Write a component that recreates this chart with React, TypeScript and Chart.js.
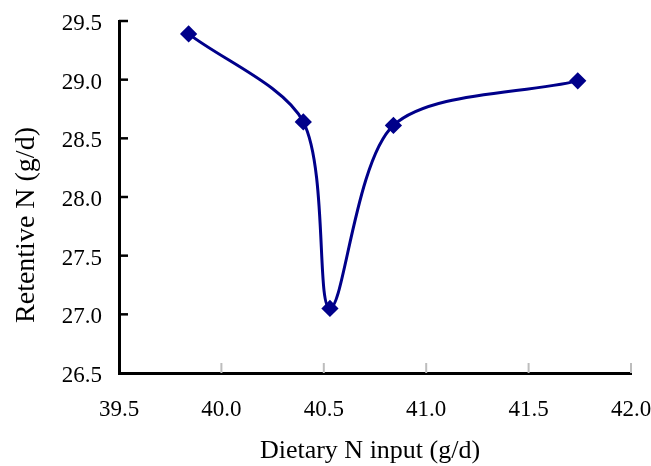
import React, { useEffect, useRef } from "react";
import { Chart, registerables } from "chart.js";

Chart.register(...registerables);

const dietaryN: number[] = [39.84, 40.4, 40.53, 40.84, 41.74];
const retentiveN: number[] = [29.39, 28.64, 27.05, 28.61, 28.99];
const xTicks: number[] = [39.5, 40.0, 40.5, 41.0, 41.5, 42.0];
const yTicks: number[] = [26.5, 27.0, 27.5, 28.0, 28.5, 29.0, 29.5];
const xTitle = "Dietary N input (g/d)";
const yTitle = "Retentive N (g/d)";

const LINE = "#00008a";
const FONT = "'Liberation Serif', 'Times New Roman', serif";

const decor = {
  id: "decor",
  afterDraw(chart: any) {
    const { ctx, chartArea, scales } = chart;
    const xs = scales.x;
    const ys = scales.y;
    ctx.save();
    ctx.strokeStyle = "#000";
    ctx.lineWidth = 2.5;
    yTicks.forEach((v) => {
      if (v === yTicks[0]) return;
      const py = ys.getPixelForValue(v);
      ctx.beginPath();
      ctx.moveTo(chartArea.left, py);
      ctx.lineTo(chartArea.left + 9, py);
      ctx.stroke();
    });
    ctx.strokeStyle = "#bdbdbd";
    ctx.lineWidth = 2;
    xTicks.forEach((v) => {
      if (v === xTicks[0]) return;
      const px = xs.getPixelForValue(v);
      ctx.beginPath();
      ctx.moveTo(px, chartArea.bottom);
      ctx.lineTo(px, chartArea.bottom - 10);
      ctx.stroke();
    });
    ctx.fillStyle = "#000";
    ctx.font = `26px ${FONT}`;
    ctx.textAlign = "center";
    ctx.textBaseline = "middle";
    ctx.fillText(xTitle, 370, 451);
    ctx.translate(27, 225);
    ctx.rotate(-Math.PI / 2);
    ctx.font = `28px ${FONT}`;
    ctx.fillText(yTitle, 0, 0);
    ctx.restore();
  },
};

const zeroPad = (s: any) => {
  s.paddingTop = 0;
  s.paddingBottom = 0;
  s.paddingLeft = 0;
  s.paddingRight = 0;
};

export default function App() {
  const ref = useRef<HTMLCanvasElement | null>(null);
  useEffect(() => {
    document.body.style.margin = "0";
    if (!ref.current) return;
    const chart = new Chart(ref.current, {
      type: "line",
      data: {
        datasets: [
          {
            data: dietaryN.map((x, i) => ({ x, y: retentiveN[i] })),
            borderColor: LINE,
            backgroundColor: LINE,
            borderWidth: 3,
            pointStyle: "rectRot",
            pointRadius: 6.5,
            pointBackgroundColor: LINE,
            pointBorderColor: LINE,
            tension: 0.3,
            clip: false as any,
          },
        ],
      },
      options: {
        animation: false,
        responsive: false,
        devicePixelRatio: 1,
        layout: { padding: { top: 21, right: 20, left: 0, bottom: 0 } },
        plugins: { legend: { display: false }, tooltip: { enabled: false } },
        scales: {
          x: {
            type: "linear",
            min: 39.5,
            max: 42,
            afterBuildTicks: (s: any) => {
              s.ticks = xTicks.map((v) => ({ value: v }));
            },
            grid: { display: false, drawTicks: false },
            border: { display: true, color: "#000", width: 3 },
            ticks: {
              padding: 23,
              color: "#000",
              font: { family: FONT, size: 23 },
              maxRotation: 0,
              autoSkip: false,
              callback: (v: any) => Number(v).toFixed(1),
            },
            afterFit: (s: any) => {
              s.height = 93;
              zeroPad(s);
            },
          },
          y: {
            type: "linear",
            min: 26.5,
            max: 29.5,
            afterBuildTicks: (s: any) => {
              s.ticks = yTicks.map((v) => ({ value: v }));
            },
            grid: { display: false, drawTicks: false },
            border: { display: true, color: "#000", width: 3 },
            ticks: {
              padding: 17,
              color: "#000",
              labelOffset: 3,
              font: { family: FONT, size: 23 },
              autoSkip: false,
              callback: (v: any) => Number(v).toFixed(1),
            },
            afterFit: (s: any) => {
              s.width = 119;
              zeroPad(s);
            },
          },
        },
      },
      plugins: [decor],
    });
    return () => chart.destroy();
  }, []);
  return (
    <div style={{ position: "fixed", left: 0, top: 0, width: 651, height: 466, background: "#fff" }}>
      <canvas ref={ref} width={651} height={466} style={{ display: "block" }} />
    </div>
  );
}
